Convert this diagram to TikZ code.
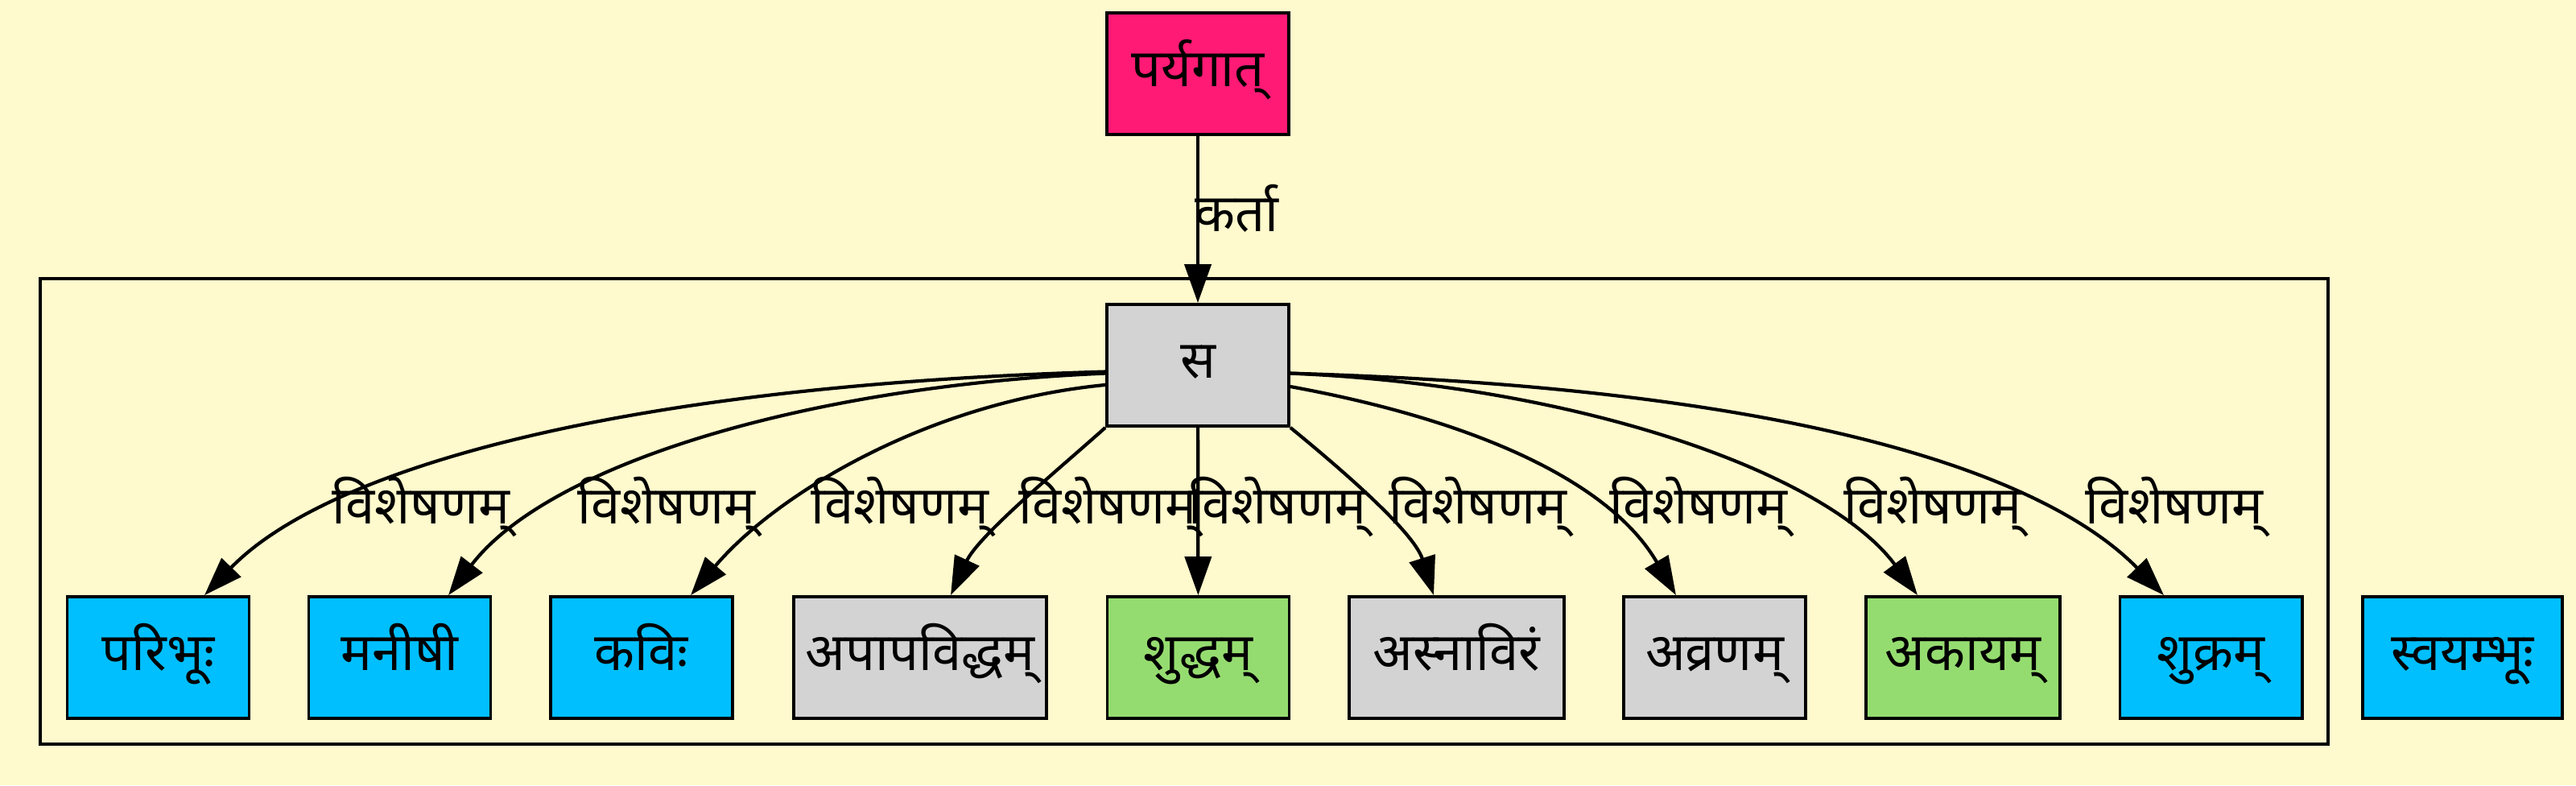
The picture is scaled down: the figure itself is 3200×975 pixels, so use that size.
\documentclass[tikz,border=0pt]{standalone}
\usepackage{fontspec}
\usepackage{tikz}
\usetikzlibrary{arrows.meta}
\newfontfamily\devfont[Script=Devanagari]{Noto Sans}
\definecolor{bgyellow}{RGB}{255,250,205}
\definecolor{rootpink}{RGB}{255,26,117}
\definecolor{nounblue}{RGB}{0,191,255}
\definecolor{nodegrey}{RGB}{211,211,211}
\definecolor{adjgreen}{RGB}{149,220,112}

\begin{document}
\begin{tikzpicture}[x=0.01cm, y=-0.01cm, >={Triangle[length=4.8mm,width=3.3mm]}, line width=0.42mm,
    word/.style={draw, line width=0.38mm, inner xsep=1mm, inner ysep=0pt,
        minimum width=22.6mm, minimum height=15.1mm, text height=4.8mm, text depth=1.7mm,
        font=\devfont\fontsize{18.5pt}{22pt}\selectfont},
    lbl/.style={anchor=base, inner sep=0pt, font=\devfont\fontsize{18.5pt}{22pt}\selectfont}]

        \fill[bgyellow] (0,0) rectangle (3200,975);
        \useasboundingbox (0,0) rectangle (3200,975);

        % cluster
        \draw (50,346) rectangle (2892,924);

        \node[word, fill=rootpink] at (1488,91.5) (paryagat) {पर्यगात्};
        \node[word, fill=nodegrey] at (1488,453.5) (sa) {स};

        \node[word, fill=nounblue] at (196.5,816.5) (paribhu) {परिभूः};
        \node[word, fill=nounblue] at (496.5,816.5) (manishi) {मनीषी};
        \node[word, fill=nounblue] at (797,816.5) (kavi) {कविः};
        \node[word, fill=nodegrey, minimum width=31.4mm] at (1143,816.5) (apapaviddham) {अपापविद्धम्};
        \node[word, fill=adjgreen] at (1488.5,816.5) (shuddham) {शुद्धम्};
        \node[word, fill=nodegrey, minimum width=26.7mm] at (1809.5,816.5) (asnaviram) {अस्नाविरं};
        \node[word, fill=nodegrey] at (2130,816.5) (avranam) {अव्रणम्};
        \node[word, fill=adjgreen, minimum width=24.1mm] at (2438.5,816.5) (akayam) {अकायम्};
        \node[word, fill=nounblue] at (2746.5,816.5) (shukram) {शुक्रम्};
        \node[word, fill=nounblue, minimum width=24.8mm] at (3059,816.5) (svayambhu) {स्वयम्भूः};

        \node[lbl] at (1536,287) (karta) {कर्ता};
        \node[lbl] at (523,650) (vis1) {विशेषणम्};
        \node[lbl] at (828,650) (vis2) {विशेषणम्};
        \node[lbl] at (1118,650) (vis3) {विशेषणम्};
        \node[lbl] at (1376,650) (vis4) {विशेषणम्};
        \node[lbl] at (1587,650) (vis5) {विशेषणम्};
        \node[lbl] at (1836,650) (vis6) {विशेषणम्};
        \node[lbl] at (2110,650) (vis7) {विशेषणम्};
        \node[lbl] at (2401,650) (vis8) {विशेषणम्};
        \node[lbl] at (2701,650) (vis9) {विशेषणम्};

        \draw[->] (paryagat) -- (sa);
        \draw[->] (sa.184.3) .. controls +(-626,18) and +(146,-151) .. ([xshift=5.75mm]paribhu.north);
        \draw[->] (sa.185) .. controls +(-376,16) and +(123,-161) .. ([xshift=6.05mm]manishi.north);
        \draw[->] (sa.192.3) .. controls +(-226,22) and +(102,-121) .. ([xshift=6.1mm]kavi.north);
        \draw[->] (sa.south west) .. controls +(-50,45) and +(35,-75) .. ([xshift=3.8mm]apapaviddham.north);
        \draw[->] (sa) -- (shuddham);
        \draw[->] (sa.south east) .. controls +(55,45) and +(-25,-80) .. ([xshift=-2.85mm]asnaviram.north);
        \draw[->] (sa.347.7) .. controls +(230,42) and +(-82,-141) .. ([xshift=-4.8mm]avranam.north);
        \draw[->] (sa.355) .. controls +(360,15) and +(-112,-151) .. ([xshift=-5.65mm]akayam.north);
        \draw[->] (sa.355.7) .. controls +(630,18) and +(-148,-151) .. ([xshift=-5.85mm]shukram.north);

    \end{tikzpicture}
\end{document}
